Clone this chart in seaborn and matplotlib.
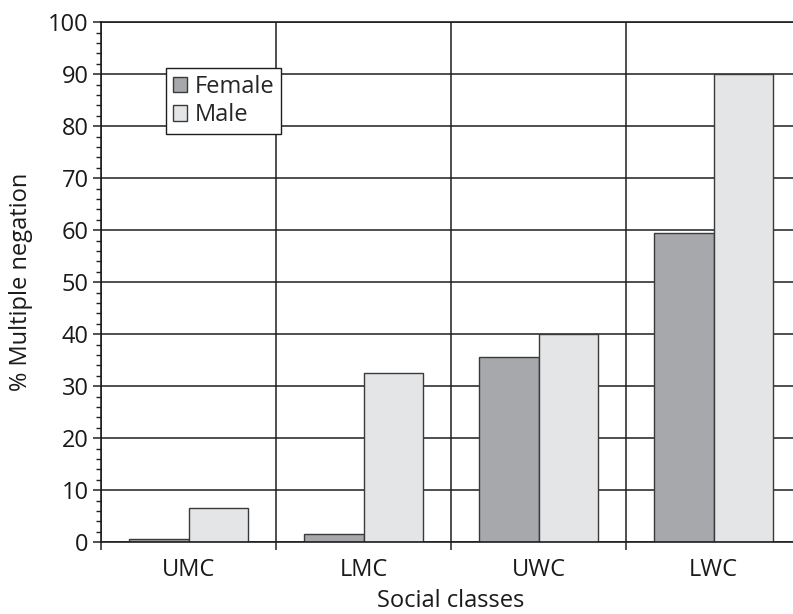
import matplotlib
matplotlib.use("Agg")
import matplotlib.pyplot as plt
from matplotlib.ticker import MultipleLocator, FixedLocator, NullFormatter
import seaborn as sns
import pandas as pd

classes = ["UMC", "LMC", "UWC", "LWC"]
female = [0.6, 1.5, 35.7, 59.5]
male = [6.5, 32.5, 40.0, 90.0]
groups = ["Female", "Male"]
palette = {"Female": "#a7a8ab", "Male": "#e4e5e7"}

df = pd.DataFrame({
    "Social classes": classes * 2,
    "value": female + male,
    "sex": ["Female"] * len(classes) + ["Male"] * len(classes),
})

sns.set_theme(style="white")
plt.rcParams["font.family"] = ["Open Sans", "DejaVu Sans"]
FS = 17

fig = plt.figure(figsize=(7.93, 6.14), dpi=100)
ax = fig.add_axes([0.1274, 0.1168, 0.8827, 0.8469])

sns.barplot(data=df, x="Social classes", y="value", hue="sex",
            hue_order=groups, palette=palette, width=0.675,
            edgecolor="#3a3a3a", linewidth=1.0, saturation=1,
            ax=ax, legend=True)

ax.set_xlim(-0.5, len(classes) - 0.5)
ax.set_ylim(0, 100)

# y axis: labelled every 10, small ticks every 2
ax.yaxis.set_major_locator(MultipleLocator(10))
ax.yaxis.set_minor_locator(MultipleLocator(2))
ax.tick_params(axis="y", which="major", length=6, width=1.1, color="#222222",
               labelsize=FS, pad=3, left=True, direction="out")
ax.tick_params(axis="y", which="minor", length=3.6, width=1.0, color="#222222",
               left=True, direction="out")

# x axis: labels centred on classes, ticks and grid at class boundaries
ax.xaxis.set_minor_locator(FixedLocator([i - 0.5 for i in range(len(classes) + 1)]))
ax.xaxis.set_minor_formatter(NullFormatter())
ax.tick_params(axis="x", which="major", length=0, labelsize=FS, pad=11)
ax.tick_params(axis="x", which="minor", length=6, width=1.1, color="#222222",
               bottom=True, direction="out")

ax.set_axisbelow(True)
ax.grid(axis="y", which="major", color="#1e1e1e", linewidth=1.1)
ax.grid(axis="x", which="minor", color="#1e1e1e", linewidth=1.1)
ax.grid(axis="x", which="major", visible=False)

for side in ["left", "bottom", "top"]:
    ax.spines[side].set_visible(True)
    ax.spines[side].set_color("#1e1e1e")
    ax.spines[side].set_linewidth(1.2)
ax.spines["right"].set_visible(False)

ax.set_xlabel("Social classes", fontsize=FS, color="#1a1a1a", labelpad=5)
ax.set_ylabel("% Multiple negation", fontsize=FS, color="#1a1a1a", labelpad=11)
for lbl in ax.get_xticklabels() + ax.get_yticklabels():
    lbl.set_color("#1a1a1a")

leg = ax.legend(loc="upper left", bbox_to_anchor=(0.093, 0.912), fontsize=FS,
                frameon=True, fancybox=False, framealpha=1, edgecolor="#1e1e1e",
                handlelength=0.62, handleheight=0.62, handletextpad=0.3,
                borderpad=0.28, labelspacing=0.2, borderaxespad=0)
leg.get_frame().set_linewidth(1.0)
for h in leg.legend_handles:
    h.set_edgecolor("#3a3a3a")
    h.set_linewidth(1.0)

fig.savefig("out.png", dpi=100)
